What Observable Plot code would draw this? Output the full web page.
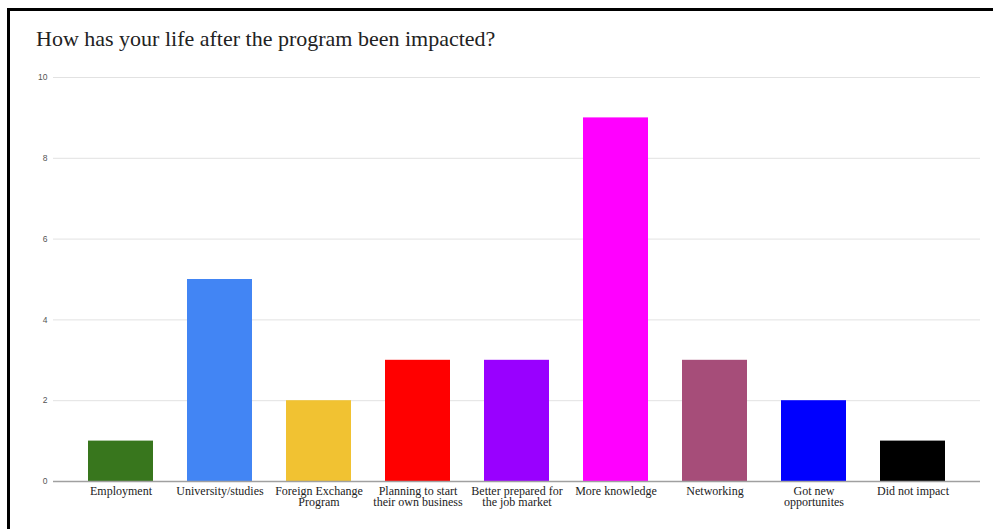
<!DOCTYPE html>
<html>
<head>
<meta charset="utf-8">
<script src="https://cdn.jsdelivr.net/npm/d3@7"></script>
<script src="https://cdn.jsdelivr.net/npm/@observablehq/plot@0.6"></script>
<style>
  html, body { margin: 0; padding: 0; background: #fff; }
  body { width: 993px; height: 529px; position: relative; overflow: hidden; }
  #frame { position: absolute; left: 7px; top: 8px; width: 1100px; height: 700px; border: 3px solid #000; box-sizing: border-box; }
  #title { position: absolute; left: 36px; top: 28px; margin: 0; font: 22px/22px "Liberation Serif", serif; font-weight: normal; color: #222; white-space: nowrap; }
  #chart { position: absolute; left: 0; top: 0; }
</style>
</head>
<body>
<div id="chart"></div>
<div id="frame"></div>
<h1 id="title">How has your life after the program been impacted?</h1>
<script>
const categories = ["Employment", "University/studies", "Foreign Exchange Program", "Planning to start their own business", "Better prepared for the job market", "More knowledge", "Networking", "Got new opportunites", "Did not impact"];
const tickLabels = ["Employment", "University/studies", "Foreign Exchange\nProgram", "Planning to start\ntheir own business", "Better prepared for\nthe job market", "More knowledge", "Networking", "Got new\nopportunites", "Did not impact"];
const counts = [1, 5, 2, 3, 3, 9, 3, 2, 1];
const colors = ["#38761d", "#4285f4", "#f1c232", "#ff0000", "#9900ff", "#ff00ff", "#a64d79", "#0000ff", "#000000"];
const yTicks = [0, 2, 4, 6, 8, 10];

const data = categories.map((c, i) => ({category: c, count: counts[i]}));
const labelOf = new Map(categories.map((c, i) => [c, tickLabels[i]]));

const chart = Plot.plot({
  width: 993,
  height: 529,
  marginLeft: 53,
  marginRight: 13,
  marginTop: 77,
  marginBottom: 48,
  x: {domain: categories, padding: 0.345, label: null},
  y: {domain: [0, 10], ticks: yTicks, label: null},
  color: {domain: categories, range: colors},
  marks: [
    Plot.ruleY(yTicks.filter(d => d > 0), {stroke: "#e2e2e2", strokeWidth: 1}),
    Plot.barY(data, {x: "category", y: "count", fill: "category"}),
    Plot.ruleY([0], {stroke: "#a0a0a0", strokeWidth: 1.5}),
    Plot.axisY({ticks: yTicks, tickSize: 0, tickPadding: 6, fontSize: 8.5, fill: "#555", fontFamily: "Liberation Sans, Arial, sans-serif", label: null}),
    Plot.axisX({tickSize: 0, tickPadding: 5, fontSize: 12, lineHeight: 0.95, fill: "#222", fontFamily: "Liberation Serif, serif", tickFormat: d => labelOf.get(d), label: null})
  ]
});
document.getElementById("chart").appendChild(chart);
</script>
</body>
</html>
